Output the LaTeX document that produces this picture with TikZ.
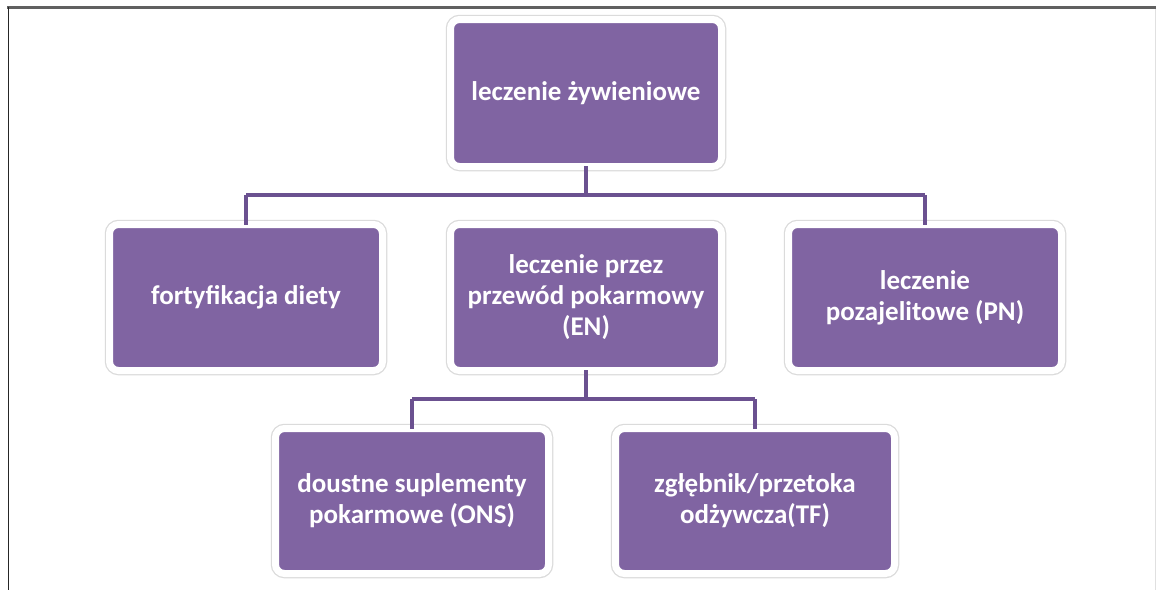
\documentclass[tikz,border=0pt]{standalone}
\usepackage{fontspec}
\setmainfont{Carlito}
\usetikzlibrary{shadows}
\definecolor{boxpurple}{HTML}{8064A2}
\definecolor{linepurple}{HTML}{6B5190}
\definecolor{framegray}{HTML}{606060}
\tikzset{
  pbox/.style={rectangle, rounded corners=9pt, fill=boxpurple, draw=white, line width=7pt,
    preaction={draw=black!14, line width=9.5pt},
    drop shadow={opacity=0.35, shadow xshift=1.5pt, shadow yshift=-3pt},
    text=white, align=center, inner sep=0pt,
    font=\bfseries\fontsize{27}{31}\selectfont},
  conn/.style={draw=linepurple, line width=3.6pt}
}
\begin{document}
\begin{tikzpicture}[x=1pt,y=-1pt]
\useasboundingbox (0,0) rectangle (1157,590);
\fill[white] (0,0) rectangle (1157,590);
% frame
\draw[framegray, line width=2.2pt] (7,7.5) -- (1156,7.5);
\draw[black!85, line width=1.4pt] (8.5,7) -- (8.5,590);
\draw[black!12, line width=1pt] (1155.5,9) -- (1155.5,590);
% boxes
\node[pbox, minimum width=271pt, minimum height=147pt] (root) at (586,93) {leczenie żywieniowe};
\node[pbox, minimum width=273pt, minimum height=146pt] (fort) at (246,297.5) {fortyfikacja diety};
\node[pbox, minimum width=271pt, minimum height=146pt] (en) at (586,297.5) {leczenie przez\\przewód pokarmowy\\(EN)};
\node[pbox, minimum width=273pt, minimum height=146pt] (pn) at (925,297.5) {leczenie\\pozajelitowe (PN)};
\node[pbox, minimum width=273pt, minimum height=145pt] (ons) at (412,501) {doustne suplementy\\pokarmowe (ONS)};
\node[pbox, minimum width=279pt, minimum height=145pt] (tf) at (755,501) {zgłębnik/przetoka\\odżywcza(TF)};
% connectors
\coordinate (j1) at (586,195);
\coordinate (j2) at (586,399);
\draw[conn] ([yshift=4pt]root.south) -- (j1);
\draw[conn] (fort.north |- j1) -- (pn.north |- j1);
\draw[conn] (j1 -| fort.north) -- ([yshift=-4pt]fort.north);
\draw[conn] (j1 -| pn.north) -- ([yshift=-4pt]pn.north);
\draw[conn] ([yshift=4pt]en.south) -- (j2);
\draw[conn] (ons.north |- j2) -- (tf.north |- j2);
\draw[conn] (j2 -| ons.north) -- ([yshift=-4pt]ons.north);
\draw[conn] (j2 -| tf.north) -- ([yshift=-4pt]tf.north);
\end{tikzpicture}
\end{document}
